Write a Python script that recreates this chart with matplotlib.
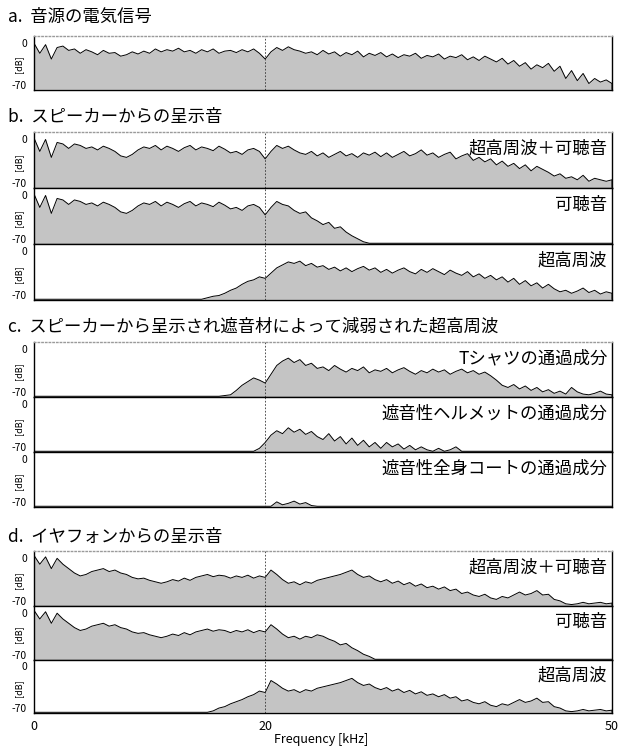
import numpy as np
import matplotlib.pyplot as plt

plt.rcParams['font.family'] = ['Noto Sans CJK JP', 'DejaVu Sans']

W, H = 618, 747
STEP = 0.5  # kHz between read-off points

# spectra in dB, read every 0.5 kHz from the start frequency; -70 elsewhere
src_start = 0
src_db = [-6, -20, -8, -28, -12, -10, -16, -14, -20, -15,
          -18, -22, -16, -20, -19, -24, -22, -18, -21, -17,
          -20, -14, -18, -15, -17, -13, -18, -16, -20, -15,
          -18, -14, -20, -17, -16, -19, -15, -18, -14, -20,
          -28, -18, -12, -16, -11, -15, -17, -20, -18, -22,
          -16, -21, -18, -24, -19, -22, -17, -25, -20, -23,
          -19, -25, -21, -26, -22, -24, -20, -27, -23, -25,
          -21, -28, -24, -26, -22, -29, -25, -30, -24, -28,
          -32, -27, -35, -30, -38, -33, -42, -36, -40, -34,
          -45, -38, -55, -44, -58, -48, -62, -55, -60, -57,
          -62]

spk_all_start = 0
spk_all_db = [-4, -22, -6, -30, -10, -12, -18, -12, -14, -18,
              -16, -20, -15, -18, -22, -28, -30, -26, -20, -16,
              -18, -14, -20, -15, -18, -22, -17, -14, -20, -16,
              -18, -21, -15, -19, -24, -22, -26, -20, -18, -22,
              -32, -22, -14, -18, -15, -20, -24, -26, -22, -28,
              -24, -30, -26, -22, -28, -25, -30, -24, -27, -23,
              -29, -24, -30, -26, -22, -28, -25, -20, -27, -24,
              -30, -26, -23, -32, -28, -25, -34, -30, -36, -32,
              -40, -35, -42, -38, -45, -40, -48, -42, -46, -50,
              -55, -52, -58, -56, -60, -54, -62, -58, -60, -62,
              -60]

spk_aud_start = 0
spk_aud_db = [-4, -22, -6, -30, -10, -12, -18, -12, -14, -18,
              -16, -20, -15, -18, -22, -28, -30, -26, -20, -16,
              -18, -14, -20, -15, -18, -22, -17, -14, -20, -16,
              -18, -21, -15, -19, -24, -22, -26, -20, -18, -22,
              -32, -22, -14, -18, -20, -26, -30, -28, -36, -40,
              -45, -42, -50, -48, -55, -60, -64, -68, -70, -70]

spk_hf_start = 14
spk_hf_db = [-70, -70,
             -68, -66, -65, -62, -58, -55, -50, -46, -44, -40,
             -42, -35, -28, -24, -20, -22, -19, -25, -22, -27,
             -25, -30, -27, -32, -28, -33, -29, -26, -31, -28,
             -34, -30, -35, -31, -28, -33, -36, -30, -34, -29,
             -33, -37, -31, -35, -38, -33, -40, -36, -42, -38,
             -44, -40, -47, -42, -50, -45, -52, -48, -55, -50,
             -56, -60, -58, -62, -59, -55, -61, -58, -63, -60,
             -62]

shirt_start = 16
shirt_db = [-70, -69, -68, -62, -55, -50, -45, -48,
            -52, -40, -28, -22, -18, -24, -20, -28, -25, -32,
            -30, -35, -28, -33, -37, -32, -35, -30, -38, -34,
            -36, -32, -38, -34, -31, -36, -40, -35, -38, -33,
            -37, -34, -40, -36, -33, -38, -35, -40, -37, -42,
            -48, -55, -58, -54, -60, -56, -62, -58, -64, -61,
            -66, -63, -67, -58, -64, -67, -68, -66, -63, -67,
            -68]

helmet_start = 18
helmet_db = [-70, -70, -70, -66,
             -58, -48, -42, -46, -38, -44, -40, -47, -43, -50,
             -54, -46, -56, -50, -60, -52, -62, -55, -64, -58,
             -66, -58, -64, -60, -67, -62, -68, -64, -68, -70,
             -66, -70, -68, -64, -70, -70]

coat_start = 20
coat_db = [-70, -70, -64, -68, -66, -63, -67, -65, -69, -70]

ear_all_start = 0
ear_all_db = [-2, -14, -4, -20, -6, -14, -20, -26, -30, -28,
              -24, -22, -20, -24, -22, -26, -28, -32, -34, -33,
              -36, -38, -40, -38, -35, -37, -33, -36, -32, -30,
              -28, -31, -29, -30, -33, -30, -32, -29, -33, -30,
              -32, -22, -28, -35, -40, -38, -42, -38, -40, -36,
              -34, -32, -30, -28, -25, -22, -28, -32, -30, -35,
              -38, -35, -40, -37, -42, -39, -44, -41, -46, -44,
              -48, -45, -50, -48, -54, -52, -56, -58, -55, -60,
              -62, -58, -60, -56, -52, -56, -54, -50, -56, -55,
              -62, -64, -68, -69, -68, -66, -68, -67, -66, -68,
              -67]

ear_aud_start = 0
ear_aud_db = [-2, -14, -4, -20, -6, -14, -20, -26, -30, -28,
              -24, -22, -20, -24, -22, -26, -28, -32, -34, -33,
              -36, -38, -40, -38, -35, -37, -33, -36, -32, -30,
              -28, -31, -29, -30, -33, -30, -32, -29, -33, -30,
              -32, -22, -28, -35, -40, -38, -42, -38, -40, -36,
              -38, -42, -45, -50, -48, -54, -58, -63, -66, -70]

ear_hf_start = 15
ear_hf_db = [-70, -68, -64, -62, -58, -55, -52, -48, -45, -40,
             -42, -25, -30, -36, -40, -38, -42, -38, -40, -36,
             -34, -32, -30, -28, -25, -22, -28, -32, -30, -35,
             -38, -35, -40, -37, -42, -39, -44, -41, -46, -44,
             -48, -45, -50, -48, -54, -52, -56, -58, -55, -60,
             -62, -58, -60, -56, -52, -56, -54, -50, -56, -55,
             -62, -64, -68, -69, -68, -66, -68, -67, -66, -68,
             -67]

titles = ["a.  音源の電気信号",
          "b.  スピーカーからの呈示音",
          "c.  スピーカーから呈示され遮音材によって減弱された超高周波",
          "d.  イヤフォンからの呈示音"]
title_y = [17, 117, 327, 537]

panels = [
    (src_start, src_db, "", 36, 90),
    (spk_all_start, spk_all_db, "超高周波＋可聴音", 132, 188),
    (spk_aud_start, spk_aud_db, "可聴音", 188, 244),
    (spk_hf_start, spk_hf_db, "超高周波", 244, 300),
    (shirt_start, shirt_db, "Tシャツの通過成分", 342, 397),
    (helmet_start, helmet_db, "遮音性ヘルメットの通過成分", 397, 452),
    (coat_start, coat_db, "遮音性全身コートの通過成分", 452, 507),
    (ear_all_start, ear_all_db, "超高周波＋可聴音", 551, 606),
    (ear_aud_start, ear_aud_db, "可聴音", 606, 660),
    (ear_hf_start, ear_hf_db, "超高周波", 660, 713),
]
group_first = {0, 1, 4, 7}

fig = plt.figure(figsize=(W / 100, H / 100), dpi=100)
left, right = 34, 612

for i, (start, db, label, top, bottom) in enumerate(panels):
    ax = fig.add_axes([left / W, 1 - bottom / H, (right - left) / W, (bottom - top) / H])
    freq = start + STEP * np.arange(len(db))
    freq = np.concatenate([[0, start], freq, [freq[-1], 50]])
    vals = np.concatenate([[-70, -70], db, [-70, -70]])
    ax.fill_between(freq, vals, -70, color="#c4c4c4", lw=0)
    ax.plot(freq, vals, color="black", lw=0.7)
    ax.axvline(20, color="#333333", lw=0.6, ls=(0, (2, 2)))
    ax.set_xlim(0, 50)
    ax.set_ylim(-71, 4)
    ax.set_yticks([])
    for s in ax.spines.values():
        s.set_linewidth(1.0)
    if i in group_first:
        ax.spines["top"].set_color("#9a9a9a")
        ax.spines["top"].set_linestyle(":")
    ax.text(-0.012, 0.86, "0", transform=ax.transAxes, ha="right", va="center", fontsize=7.5)
    ax.text(-0.012, 0.07, "-70", transform=ax.transAxes, ha="right", va="center", fontsize=7.5)
    ax.text(-0.026, 0.47, "[dB]", transform=ax.transAxes, ha="center", va="center",
            fontsize=6.5, rotation=90)
    if label:
        ax.text(0.992, 0.7, label, transform=ax.transAxes, ha="right", va="center",
                fontsize=12.5)
    if i == len(panels) - 1:
        ax.set_xticks([0, 20, 50])
        ax.set_xticklabels(["0", "20", "50"], fontsize=9)
        ax.tick_params(axis="x", length=0, pad=5)
    else:
        ax.set_xticks([])

for t, y in zip(titles, title_y):
    fig.text(8 / W, 1 - y / H, t, ha="left", va="center", fontsize=12.5)

fig.text(0.52, 1 - 740 / H, "Frequency [kHz]", ha="center", va="center", fontsize=9)

fig.savefig("out.png", dpi=100)
